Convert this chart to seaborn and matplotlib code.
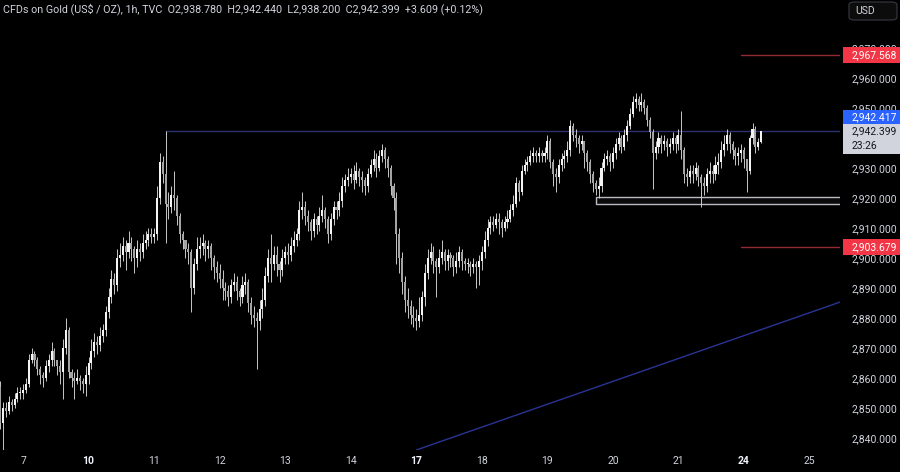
import numpy as np
import pandas as pd
import seaborn as sns
import matplotlib.pyplot as plt
from matplotlib.patches import Rectangle, FancyBboxPatch

# hourly candles (one row per trading day)
first_open = 2857.0
closes = [
    2845, 2850, 2849, 2852, 2851, 2853, 2855, 2855,  # 6 (tail)
    2856, 2858, 2866, 2868, 2866, 2863, 2861, 2860, 2864, 2866, 2869, 2866, 2864, 2862, 2870, 2876, 2862, 2860, 2859, 2860, 2859, 2858, 2861,  # 7
    2865, 2869, 2872, 2871, 2874, 2876, 2882, 2887, 2893, 2891, 2900, 2901, 2904, 2902, 2905, 2903, 2900, 2903, 2902, 2905, 2906, 2908, 2907,  # 10
    2908, 2920, 2932, 2928, 2918, 2917, 2921, 2920, 2914, 2908, 2906, 2903, 2902, 2890, 2898, 2903, 2904, 2905, 2903, 2904, 2900, 2897, 2895,  # 11
    2893, 2890, 2889, 2887, 2891, 2892, 2889, 2887, 2891, 2892, 2885, 2881, 2880, 2879, 2883, 2886, 2894, 2900, 2898, 2901, 2898, 2896, 2900,  # 12
    2902, 2901, 2904, 2906, 2908, 2916, 2917, 2914, 2912, 2909, 2913, 2911, 2914, 2916, 2913, 2908, 2913, 2917, 2916, 2919, 2924, 2926, 2927,  # 13
    2928, 2926, 2929, 2927, 2926, 2924, 2928, 2931, 2933, 2930, 2934, 2936, 2933, 2930, 2924, 2920, 2908, 2900, 2892, 2886, 2884, 2881, 2880,  # 14
    2879, 2881, 2887, 2895, 2900, 2902, 2899, 2897, 2900, 2902, 2899, 2901, 2900, 2897, 2899, 2902, 2899, 2898, 2898, 2897, 2898, 2897, 2899,  # 17
    2902, 2906, 2910, 2912, 2911, 2913, 2912, 2910, 2912, 2913, 2916, 2918, 2925, 2922, 2929, 2931, 2932, 2934, 2935, 2934, 2935, 2934, 2935,  # 18
    2939, 2932, 2928, 2927, 2931, 2933, 2934, 2936, 2944, 2941, 2940, 2938, 2939, 2935, 2932, 2928, 2925, 2923, 2924, 2930, 2933, 2934, 2932,  # 19
    2935, 2938, 2940, 2937, 2941, 2944, 2948, 2952, 2953, 2951, 2952, 2950, 2946, 2942, 2935, 2937, 2940, 2938, 2939, 2937, 2938, 2940, 2938,  # 20
    2941, 2936, 2928, 2927, 2929, 2928, 2930, 2927, 2925, 2924, 2928, 2929, 2928, 2931, 2932, 2936, 2938, 2941, 2938, 2936, 2934, 2935, 2936,  # 21
    2933, 2929, 2940, 2943, 2937, 2938.78, 2942.399,  # 24
]
highs = [
    2859, 2852, 2852, 2854, 2853, 2855, 2857, 2857,
    2858, 2860, 2868, 2870, 2869, 2867, 2864, 2862, 2866, 2868, 2872, 2870, 2866, 2866, 2873, 2880, 2877, 2863, 2862, 2863, 2861, 2860, 2864,
    2867, 2873, 2875, 2874, 2877, 2878, 2884, 2890, 2896, 2895, 2903, 2905, 2907, 2906, 2909, 2907, 2904, 2906, 2905, 2908, 2909, 2910, 2910,
    2910, 2924, 2935, 2934, 2942.417, 2922, 2924, 2929, 2921, 2915, 2909, 2906, 2905, 2903, 2900, 2907, 2907, 2908, 2906, 2906, 2905, 2901, 2899,
    2898, 2896, 2892, 2891, 2893, 2895, 2894, 2890, 2894, 2895, 2893, 2887, 2884, 2882, 2886, 2890, 2897, 2903, 2908, 2904, 2904, 2899, 2903,
    2904, 2905, 2907, 2909, 2910, 2919, 2922, 2919, 2916, 2913, 2915, 2914, 2917, 2921, 2917, 2914, 2915, 2919, 2919, 2922, 2927, 2928, 2930,
    2930, 2931, 2932, 2930, 2929, 2927, 2930, 2933, 2936, 2935, 2936, 2938, 2937, 2934, 2931, 2925, 2922, 2910, 2902, 2894, 2890, 2886, 2884,
    2883, 2887, 2889, 2898, 2903, 2905, 2904, 2900, 2903, 2906, 2903, 2903, 2902, 2901, 2902, 2904, 2903, 2900, 2900, 2899, 2900, 2899, 2901,
    2904, 2909, 2913, 2914, 2914, 2915, 2915, 2913, 2914, 2916, 2918, 2921, 2927, 2926, 2931, 2933, 2934, 2936, 2937, 2936, 2937, 2936, 2937,
    2941, 2940, 2933, 2930, 2933, 2935, 2936, 2939, 2946, 2945, 2943, 2941, 2941, 2939, 2936, 2933, 2929, 2926, 2927, 2932, 2935, 2936, 2935,
    2937, 2940, 2942, 2941, 2943, 2946, 2950, 2954, 2955, 2954, 2955, 2953, 2951, 2947, 2943, 2939, 2942, 2941, 2941, 2940, 2940, 2942, 2941,
    2943, 2949, 2937, 2930, 2931, 2931, 2932, 2931, 2928, 2927, 2930, 2932, 2931, 2934, 2935, 2939, 2941, 2943, 2942, 2939, 2937, 2937, 2938,
    2937, 2933, 2941, 2945, 2944, 2940, 2942.44,
]
lows = [
    2843, 2836, 2847, 2848, 2849, 2850, 2852, 2853,
    2853, 2855, 2857, 2865, 2864, 2861, 2858, 2857, 2859, 2862, 2864, 2864, 2861, 2858, 2853, 2868, 2860, 2857, 2853, 2858, 2856, 2855, 2854,
    2858, 2863, 2867, 2868, 2869, 2872, 2874, 2880, 2885, 2888, 2889, 2897, 2899, 2896, 2900, 2899, 2895, 2897, 2899, 2900, 2903, 2904, 2905,
    2905, 2906, 2918, 2925, 2905, 2913, 2915, 2916, 2911, 2905, 2903, 2900, 2898, 2882, 2888, 2896, 2900, 2901, 2899, 2900, 2896, 2893, 2892,
    2890, 2886, 2886, 2884, 2885, 2889, 2886, 2884, 2885, 2888, 2882, 2878, 2877, 2863, 2876, 2880, 2884, 2892, 2892, 2896, 2894, 2892, 2894,
    2898, 2898, 2899, 2902, 2904, 2906, 2913, 2911, 2909, 2906, 2907, 2908, 2909, 2912, 2910, 2905, 2906, 2911, 2913, 2914, 2917, 2922, 2924,
    2925, 2923, 2925, 2924, 2922, 2921, 2922, 2927, 2929, 2927, 2929, 2932, 2930, 2927, 2921, 2916, 2898, 2895, 2888, 2882, 2880, 2878, 2877,
    2876, 2877, 2879, 2884, 2893, 2898, 2895, 2887, 2895, 2898, 2896, 2896, 2897, 2894, 2895, 2897, 2896, 2896, 2895, 2894, 2895, 2890, 2891,
    2896, 2900, 2904, 2908, 2909, 2910, 2908, 2907, 2909, 2910, 2912, 2914, 2917, 2919, 2921, 2928, 2929, 2931, 2932, 2932, 2932, 2932, 2932,
    2933, 2930, 2924, 2922, 2925, 2929, 2930, 2932, 2934, 2939, 2937, 2935, 2936, 2930, 2929, 2925, 2922, 2921, 2920, 2922, 2929, 2931, 2929,
    2930, 2933, 2936, 2935, 2936, 2939, 2943, 2947, 2950, 2949, 2949, 2948, 2944, 2940, 2923, 2933, 2935, 2935, 2936, 2934, 2935, 2936, 2935,
    2936, 2933, 2925, 2924, 2925, 2925, 2926, 2924, 2917, 2921, 2922, 2925, 2925, 2926, 2928, 2930, 2934, 2936, 2935, 2933, 2931, 2931, 2932,
    2930, 2922, 2928, 2938, 2935, 2936, 2938.2,
]

day_labels = ["7", "10", "11", "12", "13", "14", "17", "18", "19", "20", "21", "24", "25"]
week_start = ["10", "17", "24"]

# drawn levels
resistance = 2942.417
resistance_from_bar = 58
support_top, support_bottom = 2920.4, 2918.0
support_from_bar = 209
target_up, target_down = 2967.568, 2903.679
target_from_bar = 260
trend_bars = [146, 295]
trend_prices = [2836.0, 2885.4]

y_ticks = list(range(2840, 2971, 10))
hidden_ticks = [2940]  # covered by the last-price tag

BARS_PER_DAY = 23
TAIL_BARS = 8

df = pd.DataFrame({"close": closes, "high": highs, "low": lows})
df["open"] = [first_open] + closes[:-1]
df["bar"] = np.arange(len(df))
df["up"] = df["close"] >= df["open"]

sns.set_theme(style="dark", rc={
    "axes.facecolor": "#000000",
    "figure.facecolor": "#000000",
    "axes.edgecolor": "#000000",
    "grid.color": "#000000",
})
plt.rcParams["font.family"] = ["Roboto", "DejaVu Sans"]

fig = plt.figure(figsize=(9, 4.72), dpi=100)
ax = fig.add_axes([0, 22 / 472, 840 / 900, 450 / 472])
ax.set_xlim(-0.1, 294.7)
ax.set_ylim(2836, 2986)

text_col = "#d1d4dc"
fs = 7.5

# trendline and horizontal levels through seaborn
trend_df = pd.DataFrame({"bar": trend_bars, "price": trend_prices})
sns.lineplot(data=trend_df, x="bar", y="price", ax=ax, color="#2a3494", lw=1, zorder=1)
lv = pd.DataFrame({
    "bar": [resistance_from_bar, 295, target_from_bar, 295, target_from_bar, 295],
    "price": [resistance, resistance, target_up, target_up, target_down, target_down],
    "level": ["res", "res", "up", "up", "down", "down"],
})
sns.lineplot(data=lv, x="bar", y="price", hue="level", ax=ax, lw=1, legend=False,
             palette={"res": "#2c3270", "up": "#942b33", "down": "#942b33"}, zorder=1)

# support box
ax.add_patch(Rectangle((support_from_bar, support_bottom), 295 - support_from_bar,
                       support_top - support_bottom, facecolor="#0a0a0a",
                       edgecolor="#b8bbc2", lw=1, zorder=1))

# candles
ax.vlines(df["bar"], df["low"], df["high"], color="#c8c8c8", lw=0.7, zorder=2)
body_lo = df[["open", "close"]].min(axis=1)
body_h = (df["close"] - df["open"]).abs().clip(lower=0.35)
colors = np.where(df["up"], "#f4f4f4", "#a4a4a4")
ax.bar(df["bar"], body_h, bottom=body_lo, width=0.72, color=colors, lw=0, zorder=3)

# axes styling
ax.yaxis.tick_right()
ax.set_yticks(y_ticks)
ax.set_yticklabels(["" if v in hidden_ticks else f"{v:,.3f}" for v in y_ticks])
ax.tick_params(axis="y", length=0, pad=8.5, labelcolor=text_col, labelsize=fs)
day_pos = [TAIL_BARS + BARS_PER_DAY * k for k in range(len(day_labels))]
ax.set_xticks(day_pos)
ax.set_xticklabels(day_labels)
ax.tick_params(axis="x", length=0, pad=4.5, labelcolor=text_col, labelsize=fs)
for t in ax.get_xticklabels():
    if t.get_text() in week_start:
        t.set_fontweight("bold")
        t.set_color("#f0f3fa")
ax.set_xlabel("")
ax.set_ylabel("")
ax.grid(False)
for s in ax.spines.values():
    s.set_visible(False)


# price tags on the right scale
def y_fig(v):
    return ax.transData.transform((0, v))[1] / fig.bbox.height


def tag(ypos, h, txt, fc, tc):
    fig.patches.append(Rectangle((843 / 900, ypos - h / 2), 57 / 900, h,
                                 transform=fig.transFigure, facecolor=fc,
                                 edgecolor="none", zorder=5))
    fig.text(852 / 900, ypos, txt, color=tc, fontsize=fs, va="center", ha="left", zorder=6)


tag(y_fig(target_up), 16 / 472, "2,967.568", "#f23645", "#ffffff")
tag(y_fig(target_down), 16 / 472, "2,903.679", "#f23645", "#ffffff")
tag(1 - 117 / 472, 14 / 472, "2,942.417", "#2962ff", "#ffffff")
fig.patches.append(Rectangle((843 / 900, 1 - 154 / 472), 57 / 900, 30 / 472,
                             transform=fig.transFigure, facecolor="#d1d4dc",
                             edgecolor="none", zorder=5))
fig.text(852 / 900, 1 - 131.5 / 472, "2,942.399", color="#131722", fontsize=fs, va="center", zorder=6)
fig.text(852 / 900, 1 - 146 / 472, "23:26", color="#131722", fontsize=fs, va="center", zorder=6)

# currency button
fig.patches.append(FancyBboxPatch((849 / 900, 1 - 20 / 472), 48 / 900, 18 / 472,
                                  boxstyle="round,pad=0,rounding_size=0.006",
                                  transform=fig.transFigure, facecolor="#0c0c0c",
                                  edgecolor="#363a45", lw=0.8, zorder=5))
fig.text(855 / 900, 1 - 11 / 472, "USD", color=text_col, fontsize=fs, va="center", zorder=6)

# header
fig.text(3 / 900, 1 - 9 / 472,
         "CFDs on Gold (US$ / OZ), 1h, TVC  O2,938.780  H2,942.440  L2,938.200  C2,942.399  +3.609 (+0.12%)",
         color=text_col, fontsize=7.75, va="center", ha="left")

fig.savefig("out.png", dpi=100, facecolor="#000000")
